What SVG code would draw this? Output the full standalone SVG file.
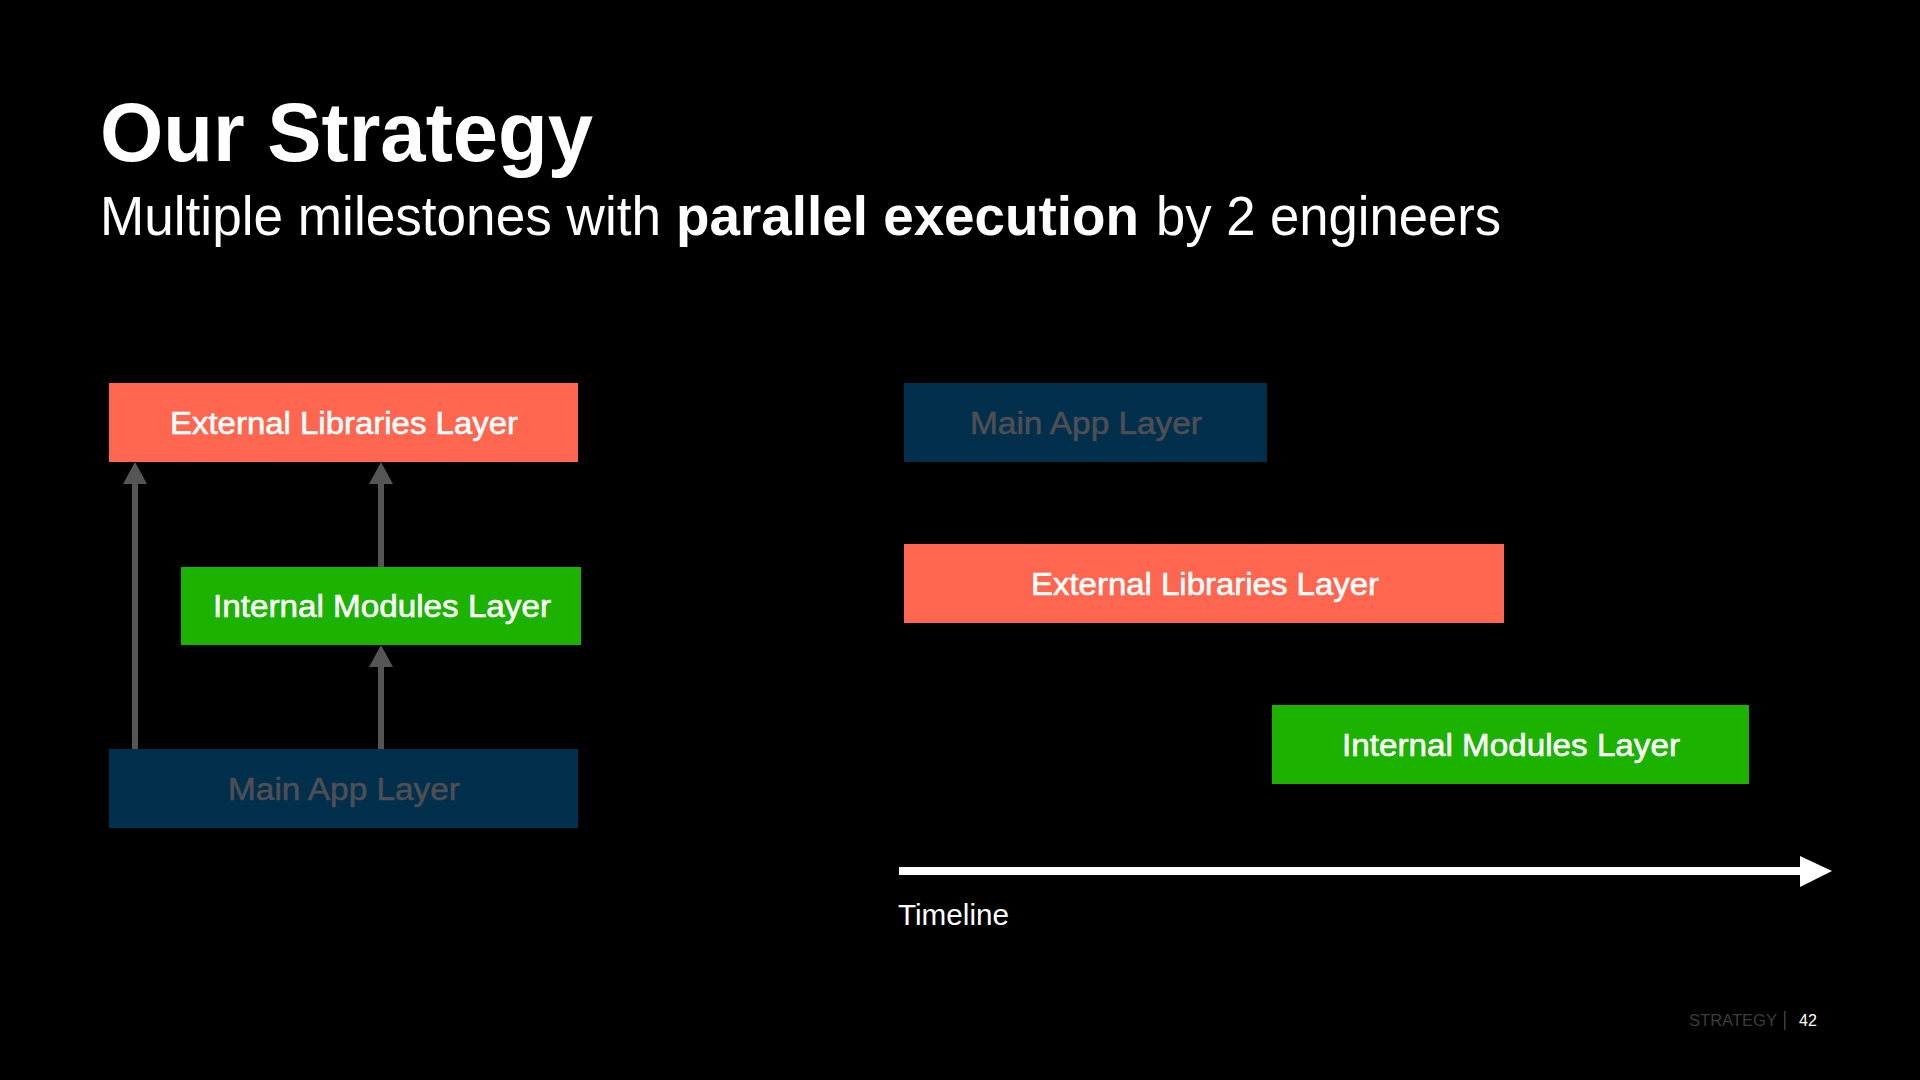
<svg xmlns="http://www.w3.org/2000/svg" width="1920" height="1080" viewBox="0 0 1920 1080">
<style>
text{font-family:"Liberation Sans",Arial,Helvetica,sans-serif}
.lbl{font-size:31px;text-anchor:middle;fill:#ffffff;stroke:#ffffff;stroke-width:0.6}
.dim{fill:#4d4f55;stroke:#4d4f55}
.red{fill:#fe6650}
.green{fill:#1cb200}
.navy{fill:#022f4b}
.conn{stroke:#555555;stroke-width:6;fill:none}
.head{fill:#555555}
</style>
<rect width="1920" height="1080" fill="#000000"/>
<text x="100" y="161" font-size="84" font-weight="bold" fill="#ffffff" textLength="493" lengthAdjust="spacingAndGlyphs">Our Strategy</text>
<text x="100" y="235" font-size="56" fill="#ffffff" textLength="561" lengthAdjust="spacingAndGlyphs">Multiple milestones with</text>
<text x="676" y="235" font-size="56" font-weight="bold" fill="#ffffff" textLength="463" lengthAdjust="spacingAndGlyphs">parallel execution</text>
<text x="1156" y="235" font-size="56" fill="#ffffff" textLength="345" lengthAdjust="spacingAndGlyphs">by 2 engineers</text>

<g id="connectors">
<line class="conn" x1="135" y1="749" x2="135" y2="484"/>
<polygon class="head" points="135,462 123,484 147,484"/>
<line class="conn" x1="381" y1="567" x2="381" y2="484"/>
<polygon class="head" points="381,462 369,484 393,484"/>
<line class="conn" x1="381" y1="749" x2="381" y2="667"/>
<polygon class="head" points="381,645 369,667 393,667"/>
</g>

<g id="left-external">
<rect class="red" x="109" y="383" width="469" height="79"/>
<text class="lbl" x="344" y="434" textLength="348" lengthAdjust="spacingAndGlyphs">External Libraries Layer</text>
</g>
<g id="left-internal">
<rect class="green" x="181" y="567" width="400" height="78"/>
<text class="lbl" x="382" y="617" textLength="338" lengthAdjust="spacingAndGlyphs">Internal Modules Layer</text>
</g>
<g id="left-main">
<rect class="navy" x="109" y="749" width="469" height="79"/>
<text class="lbl dim" x="344" y="800" textLength="232" lengthAdjust="spacingAndGlyphs">Main App Layer</text>
</g>

<g id="right-main">
<rect class="navy" x="904" y="383" width="363" height="79"/>
<text class="lbl dim" x="1086" y="434" textLength="232" lengthAdjust="spacingAndGlyphs">Main App Layer</text>
</g>
<g id="right-external">
<rect class="red" x="904" y="544" width="600" height="79"/>
<text class="lbl" x="1205" y="595" textLength="348" lengthAdjust="spacingAndGlyphs">External Libraries Layer</text>
</g>
<g id="right-internal">
<rect class="green" x="1272" y="705" width="477" height="79"/>
<text class="lbl" x="1511" y="756" textLength="338" lengthAdjust="spacingAndGlyphs">Internal Modules Layer</text>
</g>

<g id="timeline">
<rect x="899" y="867" width="903" height="8" fill="#ffffff"/>
<polygon points="1800,856 1832,871 1800,887" fill="#ffffff"/>
<text x="898" y="925" font-size="30" fill="#ffffff" textLength="111" lengthAdjust="spacingAndGlyphs">Timeline</text>
</g>

<text x="1689" y="1026" font-size="16" fill="#3c3c3c" textLength="88" lengthAdjust="spacingAndGlyphs">STRATEGY</text>
<rect x="1784" y="1011" width="1.5" height="19" fill="#3c3c3c"/>
<text x="1799" y="1026" font-size="16" fill="#ffffff">42</text>
</svg>
